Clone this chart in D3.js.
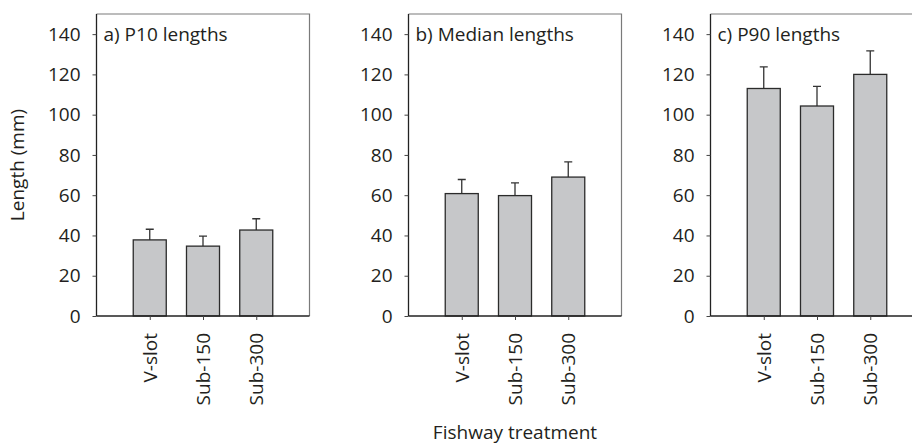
<!DOCTYPE html>
<html>
<head>
<meta charset="utf-8">
<script src="https://cdn.jsdelivr.net/npm/d3@7"></script>
<style>
  body { margin: 0; background: #fff; }
  text { font-family: "Open Sans", sans-serif; fill: #231f20; }
</style>
</head>
<body>
<div class="canvas"></div>
<script>
const treatments = ["V-slot", "Sub-150", "Sub-300"];

const p10Lengths = [37.8, 34.7, 42.7];
const p10Errors = [5.3, 5.0, 5.6];

const medianLengths = [60.8, 59.8, 69.0];
const medianErrors = [7.0, 6.3, 7.6];

const p90Lengths = [113.0, 104.3, 120.0];
const p90Errors = [10.7, 9.8, 11.7];

const yTicks = [0, 20, 40, 60, 80, 100, 120, 140];

const panels = [
  { title: "a) P10 lengths", values: p10Lengths, errors: p10Errors, left: 96.5 },
  { title: "b) Median lengths", values: medianLengths, errors: medianErrors, left: 408.5 },
  { title: "c) P90 lengths", values: p90Lengths, errors: p90Errors, left: 710.5 },
];

const dims = { width: 912, height: 446, top: 14, bottom: 316, panelWidth: 213 };

const svg = d3
  .select(".canvas")
  .append("svg")
  .attr("width", dims.width)
  .attr("height", dims.height);

const y = d3.scaleLinear().domain([0, 150]).range([dims.bottom, dims.top]);

const x = d3.scaleLinear().domain([0, 4]).range([0, dims.panelWidth]);
const barWidth = (x(1) - x(0)) * 0.62;

panels.forEach((p) => {
  const g = svg.append("g").attr("transform", `translate(${p.left}, 0)`);

  // top and right frame
  g.append("path")
    .attr("d", `M0,${dims.top}H${dims.panelWidth}V${dims.bottom}`)
    .attr("fill", "none")
    .attr("stroke", "#7a7a7a")
    .attr("stroke-width", 1.2);

  const rows = treatments.map((t, i) => ({ name: t, value: p.values[i], err: p.errors[i], pos: i + 1 }));

  // error bars (upper only)
  g.selectAll(".err")
    .data(rows)
    .enter()
    .append("path")
    .attr("class", "err")
    .attr("d", (d) => {
      const cx = x(d.pos);
      return `M${cx},${y(d.value)}V${y(d.value + d.err)}M${cx - 4},${y(d.value + d.err)}H${cx + 4}`;
    })
    .attr("fill", "none")
    .attr("stroke", "#333")
    .attr("stroke-width", 1.3);

  g.selectAll(".bar")
    .data(rows)
    .enter()
    .append("rect")
    .attr("class", "bar")
    .attr("x", (d) => x(d.pos) - barWidth / 2)
    .attr("width", barWidth)
    .attr("y", (d) => y(d.value))
    .attr("height", (d) => y(0) - y(d.value))
    .attr("fill", "#c6c7c9")
    .attr("stroke", "#2b2b2b")
    .attr("stroke-width", 1.3);

  const yAxis = d3.axisLeft(y).tickValues(yTicks).tickSize(4).tickPadding(12);
  const gy = g.append("g").call(yAxis);
  gy.select(".domain").attr("stroke", "#222").attr("stroke-width", 1.3).attr("d", `M0,${dims.bottom}V${dims.top}`);
  gy.selectAll(".tick line").attr("stroke", "#444");
  gy.selectAll("text").attr("font-size", 19).attr("font-family", "Open Sans, sans-serif").attr("fill", "#231f20");

  const xAxis = d3
    .axisBottom(x)
    .tickValues([1, 2, 3])
    .tickFormat((d) => treatments[d - 1])
    .tickSize(4)
    .tickPadding(13);
  const gx = g.append("g").attr("transform", `translate(0, ${dims.bottom})`).call(xAxis);
  gx.select(".domain").attr("stroke", "#222").attr("stroke-width", 1.3).attr("d", `M0,0H${dims.panelWidth}`);
  gx.selectAll(".tick line").attr("stroke", "#444");
  gx.selectAll("text")
    .attr("font-size", 19)
    .attr("font-family", "Open Sans, sans-serif")
    .attr("fill", "#231f20")
    .attr("text-anchor", "end")
    .attr("transform", "rotate(-90)")
    .attr("x", -17)
    .attr("y", 0)
    .attr("dy", "0.35em");

  g.append("text")
    .attr("x", 7)
    .attr("y", 41)
    .attr("font-size", 19)
    .text(p.title);
});

svg.append("text")
  .attr("transform", `translate(24, ${(dims.top + dims.bottom) / 2}) rotate(-90)`)
  .attr("text-anchor", "middle")
  .attr("font-size", 19)
  .text("Length (mm)");

svg.append("text")
  .attr("x", panels[1].left + dims.panelWidth / 2)
  .attr("y", 439)
  .attr("text-anchor", "middle")
  .attr("font-size", 19)
  .text("Fishway treatment");
</script>
</body>
</html>
